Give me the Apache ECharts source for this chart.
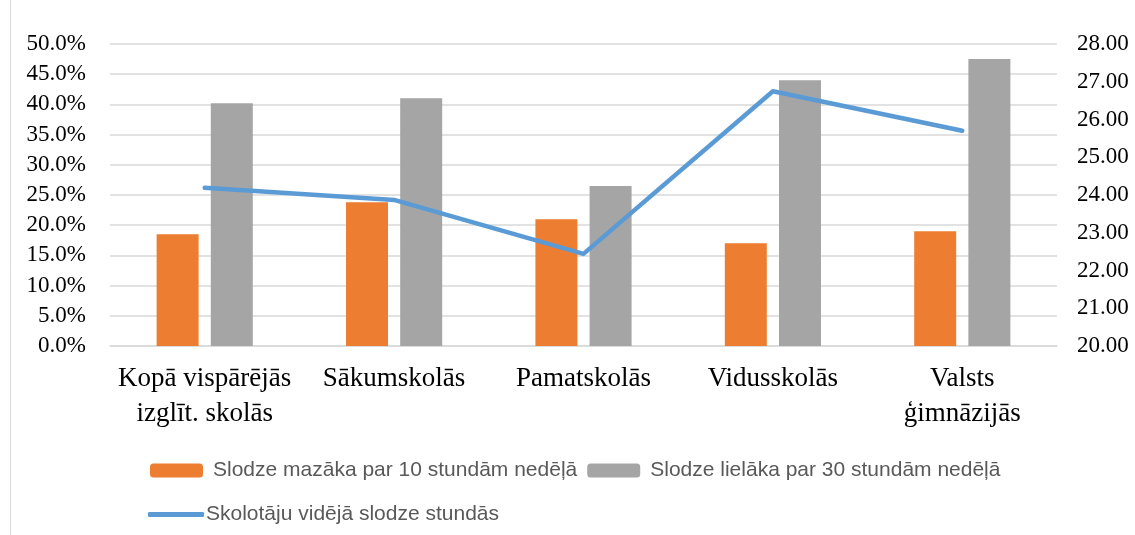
<!DOCTYPE html>
<html><head><meta charset="utf-8">
<script src="https://cdn.jsdelivr.net/npm/echarts@6/dist/echarts.min.js"></script>
<style>html,body{margin:0;padding:0;background:#fff}#c{width:1135px;height:535px}</style>
</head><body><div id="c"></div>
<script>
const categories = ['Kopā vispārējās\nizglīt. skolās', 'Sākumskolās', 'Pamatskolās', 'Vidusskolās', 'Valsts\nģimnāzijās'];
const below10 = [18.5, 23.8, 21.0, 17.0, 19.0];
const above30 = [40.2, 41.0, 26.5, 44.0, 47.5];
const avgLoad = [24.19, 23.87, 22.44, 26.75, 25.70];
const names = ['Slodze mazāka par 10 stundām nedēļā', 'Slodze lielāka par 30 stundām nedēļā', 'Skolotāju vidējā slodze stundās'];

const chart = echarts.init(document.getElementById('c'));
const serif = 'Liberation Serif';
const sans = 'Liberation Sans';
chart.setOption({
  animation: false,
  backgroundColor: '#fff',
  grid: {left: 110, right: 78, top: 44, bottom: 189, containLabel: false},
  graphic: [{type: 'line', shape: {x1: 10.5, y1: 0, x2: 10.5, y2: 535}, style: {stroke: '#d9d9d9', lineWidth: 1}}],
  legend: [
    {data: [names[0], names[1]], left: 145, top: 455, itemWidth: 53, itemHeight: 14, itemGap: 10,
     textStyle: {fontFamily: sans, fontSize: 21, color: '#595959', padding: [0, 0, 0, 5]}},
    {data: [{name: names[2], icon: 'roundRect'}], left: 143, top: 499, itemWidth: 56, itemHeight: 5, itemGap: 0,
     itemStyle: {color: '#5B9BD5'},
     textStyle: {fontFamily: sans, fontSize: 21, color: '#595959', padding: [0, 0, 0, -3]}}
  ],
  xAxis: {type: 'category', data: categories,
    axisLine: {show: true, lineStyle: {color: '#d9d9d9', width: 1.5}}, axisTick: {show: false},
    axisLabel: {fontFamily: serif, fontSize: 27, color: '#000', margin: 15, lineHeight: 35, interval: 0}},
  yAxis: [
    {type: 'value', min: 0, max: 50, interval: 5,
     axisLine: {show: false}, axisTick: {show: false},
     splitLine: {lineStyle: {color: '#d9d9d9', width: 1.5}},
     axisLabel: {fontFamily: serif, fontSize: 23, color: '#000', margin: 24, formatter: v => v.toFixed(1) + '%'}},
    {type: 'value', min: 20, max: 28, interval: 1,
     axisLine: {show: false}, axisTick: {show: false}, splitLine: {show: false},
     axisLabel: {fontFamily: serif, fontSize: 23, color: '#000', margin: 20, formatter: v => v.toFixed(2)}}
  ],
  series: [
    {name: names[0], type: 'bar', data: below10, barWidth: 42, barGap: '29%', itemStyle: {color: '#ED7D31'}},
    {name: names[1], type: 'bar', data: above30, barWidth: 42, barGap: '29%', itemStyle: {color: '#A5A5A5'}},
    {name: names[2], type: 'line', yAxisIndex: 1, data: avgLoad, symbol: 'none',
     lineStyle: {color: '#5B9BD5', width: 4.5, cap: 'round', join: 'round'}, itemStyle: {color: '#5B9BD5'}}
  ]
});
</script></body></html>
